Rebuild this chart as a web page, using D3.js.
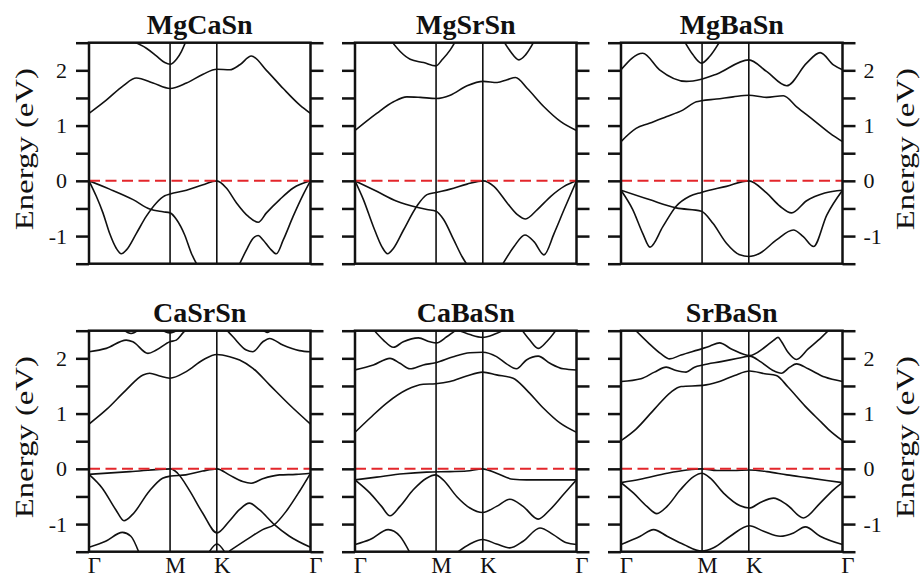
<!DOCTYPE html>
<html>
<head>
<meta charset="utf-8">
<script src="https://cdn.jsdelivr.net/npm/d3@7"></script>
<style>
  html, body { margin: 0; padding: 0; background: #fff; }
  svg { display: block; font-family: "Liberation Serif", "Times New Roman", serif; }
</style>
</head>
<body>
<svg id="chart" width="922" height="578"></svg>
<script>
// High-symmetry points along Γ–M–K–Γ, as a fraction of the total path length
const kPoints = [0, 0.366, 0.577, 1];
const kLabels = ["Γ", "M", "K", "Γ"];
const energyRange = [-1.5, 2.5];
const energyTicks = [-1.5, -1, -0.5, 0, 0.5, 1, 1.5, 2, 2.5];
const energyLabels = [-1, 0, 1, 2];
const compounds = ["MgCaSn", "MgSrSn", "MgBaSn", "CaSrSn", "CaBaSn", "SrBaSn"];

// Each band: list of [k, E (eV)] samples, Fermi level at 0
const bandsMgCaSn = [
  [[0,1.22],[0.078,1.46],[0.154,1.72],[0.214,1.86],[0.289,1.77],[0.366,1.67],[0.440,1.77],[0.515,1.93],[0.577,2.02],[0.636,2.01],[0.681,2.10],[0.733,2.26],[0.801,2.00],[0.877,1.67],[0.952,1.37],[1,1.22]],
  [[0.199,2.52],[0.259,2.40],[0.304,2.26],[0.342,2.14],[0.366,2.11],[0.395,2.20],[0.417,2.34],[0.437,2.52]],
  [[0,0],[0.033,-0.28],[0.063,-0.58],[0.093,-0.95],[0.123,-1.22],[0.146,-1.32],[0.169,-1.25],[0.214,-0.95],[0.259,-0.64],[0.304,-0.40],[0.342,-0.27],[0.366,-0.24],[0.440,-0.17],[0.515,-0.07],[0.577,0],[0.620,-0.13],[0.666,-0.40],[0.718,-0.64],[0.764,-0.75],[0.801,-0.58],[0.861,-0.34],[0.922,-0.13],[1,0]],
  [[0,0],[0.093,-0.15],[0.199,-0.34],[0.274,-0.51],[0.334,-0.56],[0.366,-0.58],[0.395,-0.70],[0.432,-0.98],[0.462,-1.31],[0.488,-1.52]],
  [[0.678,-1.52],[0.711,-1.25],[0.741,-1.04],[0.764,-0.99],[0.786,-1.07],[0.816,-1.22],[0.846,-1.32],[0.877,-1.07],[0.922,-0.64],[0.967,-0.25],[1,0]]
];

const bandsMgSrSn = [
  [[0,0.91],[0.098,1.22],[0.174,1.43],[0.234,1.52],[0.295,1.51],[0.366,1.49],[0.430,1.55],[0.506,1.72],[0.579,1.80],[0.642,1.78],[0.687,1.83],[0.725,1.87],[0.778,1.67],[0.853,1.34],[0.929,1.07],[1,0.91]],
  [[0.166,2.52],[0.204,2.34],[0.249,2.20],[0.310,2.14],[0.366,2.08],[0.393,2.19],[0.430,2.37],[0.453,2.52]],
  [[0.672,2.52],[0.702,2.34],[0.740,2.19],[0.770,2.28],[0.808,2.52]],
  [[0,0],[0.038,-0.34],[0.083,-0.83],[0.121,-1.19],[0.147,-1.32],[0.174,-1.22],[0.219,-0.89],[0.279,-0.46],[0.325,-0.25],[0.366,-0.21],[0.430,-0.15],[0.506,-0.06],[0.579,0],[0.627,-0.10],[0.687,-0.40],[0.733,-0.61],[0.770,-0.69],[0.823,-0.52],[0.884,-0.28],[0.944,-0.10],[1,0]],
  [[0,0],[0.098,-0.19],[0.189,-0.37],[0.279,-0.48],[0.325,-0.52],[0.366,-0.55],[0.400,-0.70],[0.446,-1.07],[0.483,-1.37],[0.506,-1.52]],
  [[0.665,-1.52],[0.718,-1.19],[0.767,-0.98],[0.808,-1.10],[0.853,-1.34],[0.899,-0.95],[0.944,-0.52],[1,0]]
];

const bandsMgBaSn = [
  [[0,0.71],[0.068,0.95],[0.128,1.04],[0.204,1.16],[0.279,1.28],[0.340,1.43],[0.363,1.45],[0.431,1.48],[0.506,1.52],[0.577,1.55],[0.657,1.51],[0.733,1.54],[0.793,1.34],[0.869,1.10],[0.944,0.86],[1,0.71]],
  [[0,2.01],[0.098,2.31],[0.174,2.01],[0.295,1.80],[0.363,1.84],[0.431,1.93],[0.577,2.19],[0.657,1.98],[0.748,1.72],[0.838,2.13],[0.899,2.32],[0.959,2.10],[1,2.01]],
  [[0.287,2.52],[0.325,2.28],[0.363,2.13],[0.400,2.25],[0.446,2.52]],
  [[0,-0.17],[0.053,-0.52],[0.098,-0.95],[0.131,-1.20],[0.189,-0.83],[0.249,-0.46],[0.310,-0.28],[0.363,-0.21],[0.476,-0.10],[0.577,0],[0.657,-0.22],[0.718,-0.46],[0.770,-0.58],[0.838,-0.36],[0.920,-0.22],[1,-0.17]],
  [[0,-0.17],[0.128,-0.34],[0.249,-0.49],[0.363,-0.55],[0.415,-0.77],[0.476,-1.13],[0.536,-1.34],[0.577,-1.37],[0.627,-1.31],[0.702,-1.07],[0.778,-0.89],[0.823,-1.01],[0.869,-1.19],[0.929,-0.62],[1,-0.17]]
];

const bandsCaSrSn = [
  [[0,0.81],[0.078,1.07],[0.168,1.43],[0.244,1.70],[0.274,1.73],[0.319,1.68],[0.365,1.64],[0.439,1.76],[0.514,1.97],[0.577,2.07],[0.635,2.03],[0.680,1.97],[0.740,1.82],[0.815,1.52],[0.905,1.16],[1,0.81]],
  [[0,2.12],[0.078,2.18],[0.168,2.33],[0.198,2.30],[0.266,2.09],[0.304,2.15],[0.365,2.30],[0.394,2.33],[0.424,2.46],[0.440,2.52]],
  [[0.620,2.52],[0.650,2.39],[0.710,2.15],[0.740,2.12],[0.785,2.30],[0.815,2.36],[0.875,2.24],[0.950,2.14],[1,2.12]],
  [[0.150,2.53],[0.190,2.45],[0.230,2.53]],
  [[0.320,2.53],[0.365,2.46],[0.410,2.53]],
  [[0.780,2.53],[0.805,2.47],[0.830,2.53]],
  [[0,-0.10],[0.185,-0.05],[0.370,0],[0.400,-0.08],[0.452,-0.38],[0.513,-0.80],[0.578,-1.16],[0.633,-0.95],[0.679,-0.74],[0.724,-0.62],[0.769,-0.74],[0.837,-1.01],[0.905,-1.22],[1,-1.42]],
  [[0,-0.10],[0.060,-0.35],[0.121,-0.74],[0.158,-0.94],[0.196,-0.83],[0.271,-0.41],[0.332,-0.17],[0.370,-0.13],[0.437,-0.11],[0.513,-0.04],[0.578,0],[0.633,-0.11],[0.694,-0.23],[0.732,-0.26],[0.784,-0.18],[0.860,-0.11],[0.935,-0.10],[1,-0.08]],
  [[0.633,-1.49],[0.724,-1.25],[0.784,-1.10],[0.837,-1.01],[0.890,-0.77],[0.950,-0.41],[1,-0.08]],
  [[0,-1.42],[0.075,-1.31],[0.151,-1.15],[0.189,-1.22],[0.226,-1.52]],
  [[0.540,-1.52],[0.578,-1.36],[0.615,-1.52]]
];

const bandsCaBaSn = [
  [[0,0.66],[0.068,0.92],[0.143,1.19],[0.233,1.43],[0.308,1.53],[0.364,1.54],[0.429,1.58],[0.504,1.68],[0.576,1.75],[0.639,1.70],[0.714,1.64],[0.774,1.43],[0.850,1.10],[0.925,0.83],[1,0.66]],
  [[0,1.79],[0.083,1.88],[0.158,2.00],[0.203,1.91],[0.248,1.81],[0.308,1.88],[0.364,1.92],[0.444,2.03],[0.519,2.10],[0.576,2.11],[0.639,2.03],[0.684,1.90],[0.729,1.81],[0.774,1.97],[0.827,2.04],[0.880,1.91],[0.940,1.81],[1,1.79]],
  [[0.083,2.52],[0.128,2.33],[0.173,2.20],[0.218,2.30],[0.286,2.37],[0.338,2.30],[0.368,2.28],[0.414,2.39],[0.459,2.52]],
  [[0.459,2.52],[0.519,2.43],[0.576,2.38],[0.632,2.44],[0.677,2.52]],
  [[0.752,2.52],[0.789,2.33],[0.827,2.18],[0.865,2.30],[0.910,2.52]],
  [[0,-0.20],[0.098,-0.15],[0.218,-0.09],[0.323,-0.06],[0.429,-0.05],[0.504,-0.04],[0.576,0],[0.639,-0.08],[0.714,-0.19],[0.774,-0.20],[0.880,-0.20],[1,-0.20]],
  [[0,-0.20],[0.068,-0.44],[0.120,-0.68],[0.158,-0.85],[0.203,-0.68],[0.263,-0.38],[0.323,-0.17],[0.364,-0.11],[0.398,-0.20],[0.459,-0.50],[0.519,-0.71],[0.576,-0.79],[0.639,-0.68],[0.699,-0.55],[0.759,-0.68],[0.827,-0.91],[0.880,-0.74],[0.940,-0.47],[1,-0.20]],
  [[0,-1.37],[0.068,-1.28],[0.150,-1.10],[0.203,-1.22],[0.248,-1.52]],
  [[0.459,-1.52],[0.519,-1.36],[0.576,-1.28],[0.639,-1.36],[0.699,-1.43],[0.759,-1.31],[0.835,-1.07],[0.895,-1.19],[0.955,-1.34],[1,-1.37]]
];

const bandsSrBaSn = [
  [[0,0.51],[0.068,0.72],[0.151,1.08],[0.226,1.39],[0.271,1.49],[0.370,1.51],[0.437,1.57],[0.513,1.69],[0.581,1.77],[0.649,1.72],[0.701,1.69],[0.754,1.48],[0.830,1.14],[0.905,0.84],[0.935,0.72],[1,0.51]],
  [[0,1.58],[0.090,1.63],[0.151,1.75],[0.204,1.84],[0.249,1.78],[0.294,1.75],[0.332,1.84],[0.370,1.88],[0.452,1.94],[0.528,2.00],[0.581,2.04],[0.633,1.93],[0.686,1.78],[0.724,1.73],[0.762,1.84],[0.792,1.90],[0.845,1.81],[0.920,1.66],[1,1.58]],
  [[0.060,2.53],[0.121,2.29],[0.181,2.08],[0.219,1.99],[0.271,2.06],[0.370,2.18],[0.400,2.22],[0.445,2.28],[0.498,2.17],[0.581,2.05],[0.649,2.20],[0.690,2.33],[0.709,2.38],[0.725,2.30],[0.754,2.11],[0.792,1.98],[0.845,2.17],[0.905,2.38],[0.943,2.53]],
  [[0,-0.25],[0.087,-0.19],[0.208,-0.08],[0.298,-0.02],[0.365,0],[0.433,-0.03],[0.508,-0.03],[0.579,-0.02],[0.659,-0.05],[0.749,-0.11],[0.839,-0.16],[0.929,-0.21],[1,-0.25]],
  [[0,-0.25],[0.057,-0.44],[0.117,-0.68],[0.162,-0.81],[0.208,-0.68],[0.268,-0.38],[0.328,-0.14],[0.365,-0.08],[0.403,-0.17],[0.463,-0.44],[0.538,-0.67],[0.579,-0.71],[0.629,-0.61],[0.689,-0.53],[0.749,-0.65],[0.824,-0.89],[0.899,-0.62],[0.959,-0.38],[1,-0.25]],
  [[0,-1.37],[0.087,-1.22],[0.147,-1.10],[0.208,-1.22],[0.283,-1.37],[0.365,-1.49],[0.418,-1.43],[0.493,-1.22],[0.579,-1.03],[0.644,-1.13],[0.719,-1.22],[0.779,-1.16],[0.832,-1.05],[0.899,-1.22],[1,-1.37]]
];

const bandSets = [bandsMgCaSn, bandsMgSrSn, bandsMgBaSn, bandsCaSrSn, bandsCaBaSn, bandsSrBaSn];

// ---- layout ----
const serif = "Liberation Serif, Times New Roman, serif";
const colLeft = [89, 355, 621];
const rowTop = [42.7, 330.7];
const panelW = 221.5;
const panelH = 221;

const svg = d3.select("#chart");

compounds.forEach((name, i) => {
  const col = i % 3, row = Math.floor(i / 3);
  const x0 = colLeft[col], y0 = rowTop[row];
  const x = d3.scaleLinear().domain([0, 1]).range([x0, x0 + panelW]);
  const y = d3.scaleLinear().domain(energyRange).range([y0 + panelH, y0]);

  const g = svg.append("g").attr("class", "panel");

  const clipId = "clip" + i;
  svg.append("clipPath").attr("id", clipId)
    .append("rect").attr("x", x0).attr("y", y0).attr("width", panelW).attr("height", panelH);

  // bands
  const line = d3.line().x(d => x(d[0])).y(d => y(d[1])).curve(d3.curveMonotoneX);
  g.append("g").attr("clip-path", `url(#${clipId})`)
    .selectAll("path").data(bandSets[i]).join("path")
    .attr("d", line)
    .attr("fill", "none").attr("stroke", "#111").attr("stroke-width", 1.6);

  // high-symmetry verticals at M and K
  g.selectAll("line.hs").data(kPoints.slice(1, 3)).join("line")
    .attr("class", "hs")
    .attr("x1", d => x(d)).attr("x2", d => x(d))
    .attr("y1", y0).attr("y2", y0 + panelH)
    .attr("stroke", "#111").attr("stroke-width", 1.6);

  // Fermi level
  g.append("line")
    .attr("x1", x0).attr("x2", x0 + panelW)
    .attr("y1", y(0)).attr("y2", y(0))
    .attr("stroke", "#e3262b").attr("stroke-width", 2)
    .attr("stroke-dasharray", "11,5.5");

  // y axes on both sides, labels only on outer columns
  const fmt = d => energyLabels.includes(d) ? String(d) : "";
  const left = d3.axisLeft(y).tickValues(energyTicks).tickSize(13).tickSizeOuter(0).tickPadding(9)
    .tickFormat(col === 0 ? fmt : () => "");
  const right = d3.axisRight(y).tickValues(energyTicks).tickSize(13).tickSizeOuter(0).tickPadding(8)
    .tickFormat(col === 2 ? fmt : () => "");

  [[left, x0], [right, x0 + panelW]].forEach(([ax, xp]) => {
    const a = g.append("g").attr("transform", `translate(${xp},0)`).call(ax);
    a.attr("font-family", serif);
    a.select(".domain").remove();
    a.selectAll(".tick line").attr("stroke", "#111").attr("stroke-width", 2.5);
    a.selectAll(".tick text")
      .attr("font-family", serif)
      .attr("font-size", 22).attr("fill", "#111");
  });

  // frame
  g.append("rect")
    .attr("x", x0).attr("y", y0).attr("width", panelW).attr("height", panelH)
    .attr("fill", "none").attr("stroke", "#111").attr("stroke-width", 2.5);

  // title
  g.append("text")
    .attr("x", x0 + panelW / 2).attr("y", y0 - 9)
    .attr("text-anchor", "middle")
    .attr("font-family", serif)
    .attr("font-size", 28).attr("font-weight", "bold").attr("fill", "#111")
    .text(name);

  // k-path labels on the bottom row
  if (row === 1) {
    const bx = d3.axisBottom(x).tickValues(kPoints).tickSize(0).tickPadding(0)
      .tickFormat((d, j) => kLabels[j]);
    const b = g.append("g").attr("transform", `translate(0,${y0 + panelH})`).call(bx);
    b.attr("font-family", serif);
    b.select(".domain").remove();
    b.selectAll(".tick text")
      .attr("font-family", serif)
      .attr("font-size", 23).attr("fill", "#111")
      .attr("dx", 5).attr("y", 21).attr("dy", 0);
  }

  // energy axis title on the outer columns (tall, narrow lettering)
  if (col !== 1) {
    const tx = col === 0 ? 33 : 914;
    g.append("text")
      .attr("transform", `translate(${tx},${y0 + panelH / 2 - 4}) rotate(-90) scale(1.26,1)`)
      .attr("text-anchor", "middle")
      .attr("font-family", serif)
      .attr("font-size", 26).attr("fill", "#111")
      .text("Energy (eV)");
  }
});
</script>
</body>
</html>
